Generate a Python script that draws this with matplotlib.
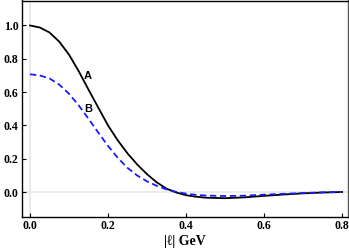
#Recreate form factor style chart
import numpy as np
import matplotlib
matplotlib.use("Agg")
import matplotlib.pyplot as plt

#Data
lValues = [0.0, 0.025, 0.05, 0.075, 0.1, 0.125, 0.15, 0.175, 0.2, 0.225, 0.25, 0.275,
           0.3, 0.325, 0.35, 0.375, 0.4, 0.425, 0.45, 0.5, 0.55, 0.6, 0.65, 0.7, 0.75, 0.8]
curveA = [1.0, 0.988, 0.958, 0.903, 0.825, 0.725, 0.615, 0.507, 0.40, 0.31, 0.232, 0.165,
          0.107, 0.058, 0.02, -0.003, -0.019, -0.028, -0.034, -0.037, -0.032, -0.023, -0.015, -0.008, -0.003, 0.0]
curveB = [0.707, 0.70, 0.682, 0.645, 0.59, 0.52, 0.44, 0.357, 0.277, 0.205, 0.145, 0.099,
          0.064, 0.037, 0.016, 0.001, -0.01, -0.017, -0.021, -0.024, -0.022, -0.016, -0.011, -0.006, -0.002, 0.0]
xTicks = [0.0, 0.2, 0.4, 0.6, 0.8]
yTicks = [0.0, 0.2, 0.4, 0.6, 0.8, 1.0]

serifBold = {"family": ["Liberation Serif", "DejaVu Serif"], "weight": "bold"}

figure_1 = plt.figure(figsize=(3.49, 2.5), dpi=100)
axes_1 = figure_1.add_axes([0.063, 0.132, 0.934, 0.866])

#Light grey axis lines through zero
axes_1.axhline(0, color="#e6e6e6", lw=1.2, zorder=0)
axes_1.axvline(0, color="#e6e6e6", lw=1.2, zorder=0)

axes_1.plot(lValues, curveA, color="black", lw=1.3)
axes_1.plot(lValues, curveB, color="#1a1aff", lw=1.3, ls=(0, (3.5, 2)))

axes_1.text(0.148, 0.695, "A", fontsize=8, fontweight="bold",
            family=["Liberation Sans", "DejaVu Sans"], ha="center", va="center")
axes_1.text(0.150, 0.50, "B", fontsize=8, fontweight="bold",
            family=["Liberation Sans", "DejaVu Sans"], ha="center", va="center")

axes_1.set_xlim([-0.0205, 0.815])
axes_1.set_ylim([-0.15, 1.15])
axes_1.set_xticks(xTicks)
axes_1.set_yticks(yTicks)
axes_1.set_xticklabels(["%.1f" % t for t in xTicks], fontdict=serifBold, fontsize=8.5)
axes_1.set_yticklabels(["%.1f" % t for t in yTicks], fontdict=serifBold, fontsize=8.5)
axes_1.tick_params(direction="in", length=3, width=0.8, pad=2.5)

for side in axes_1.spines:
    axes_1.spines[side].set_linewidth(1.0)
axes_1.spines["right"].set_color("#555555")

axes_1.set_xlabel("|\u2113| GeV", fontsize=10, fontweight="bold",
                  family=["Liberation Serif", "DejaVu Serif"], labelpad=2)

figure_1.savefig("out.png", dpi=100)
